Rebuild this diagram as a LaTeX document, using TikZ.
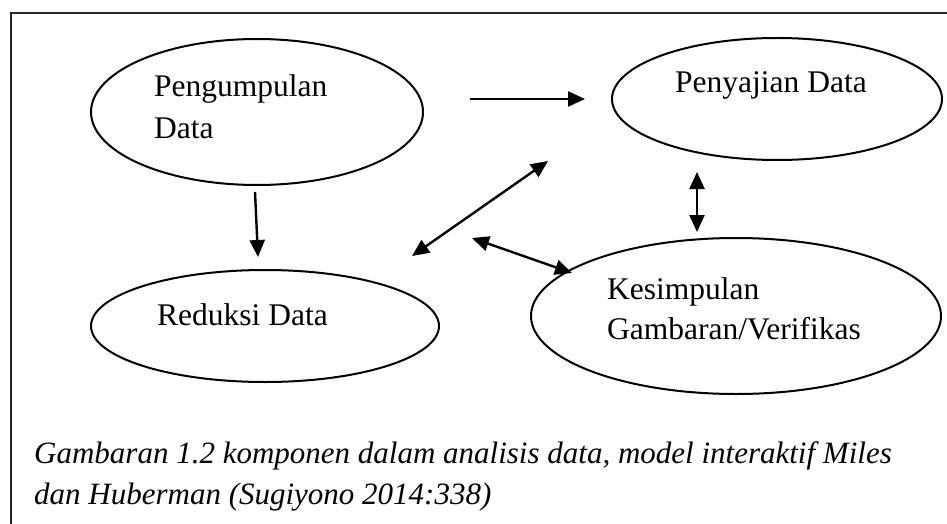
\documentclass[tikz,border=0pt]{standalone}
\usepackage{fontspec}
\setmainfont{Liberation Serif}
\usetikzlibrary{arrows.meta,shapes.geometric}
\begin{document}
\begin{tikzpicture}[x=1pt,y=-1pt,
  ell/.style={draw,ellipse,line width=2pt,inner sep=0pt},
  lbl/.style={anchor=base west,inner sep=0pt,font=\fontsize{31.5}{40}\selectfont},
  captext/.style={anchor=base west,inner sep=0pt,font=\fontsize{31}{40}\selectfont\itshape},
  tip/.tip={Triangle[length=17pt,width=15pt]},
  arr/.style={line width=2.4pt,-tip},
  darr/.style={line width=2.4pt,tip-tip},
  frameline/.style={line width=2pt,draw=black!85}]
\useasboundingbox (0,0) rectangle (947,524);
% frame
\draw[frameline] (11,524) -- (11,13) -- (947,13);
% ellipses
\node[ell,minimum width=332pt,minimum height=146pt] (pg) at (257,112) {};
\node[ell,minimum width=330pt,minimum height=122pt] (py) at (777,99) {};
\node[ell,minimum width=348pt,minimum height=112pt] (rd) at (265,326) {};
\node[ell,minimum width=410pt,minimum height=156pt] (ks) at (736,316) {};
% texts
\node[lbl] (t1) at (154,97) {Pengumpulan};
\node[lbl] (t2) at (154,139) {Data};
\node[lbl] (t3) at (675,93) {Penyajian Data};
\node[lbl] (t4) at (157,325) {Reduksi Data};
\node[lbl] (t5) at (607,299) {Kesimpulan};
\node[lbl] (t6) at (607,339) {Gambaran/Verifikas};
\node[captext] (c1) at (34,463) {Gambaran 1.2 komponen dalam analisis data, model interaktif Miles};
\node[captext] (c2) at (34,504) {dan Huberman (Sugiyono 2014:338)};
% connector end points
\coordinate (a1s) at (470,99);
\coordinate (a1e) at (585,99);
\coordinate (a2s) at (255,192);
\coordinate (a2e) at (258,257);
\coordinate (a3s) at (412,256);
\coordinate (a3e) at (548,161);
\coordinate (a4s) at (472,238);
\coordinate (a4e) at (572,273);
\coordinate (a5s) at (697,172);
\coordinate (a5e) at (697,232);
% connectors
\draw[arr] (a1s) -- (a1e);
\draw[arr] (a2s) -- (a2e);
\draw[darr] (a3s) -- (a3e);
\draw[darr] (a4s) -- (a4e);
\draw[darr] (a5s) -- (a5e);
\end{tikzpicture}
\end{document}
